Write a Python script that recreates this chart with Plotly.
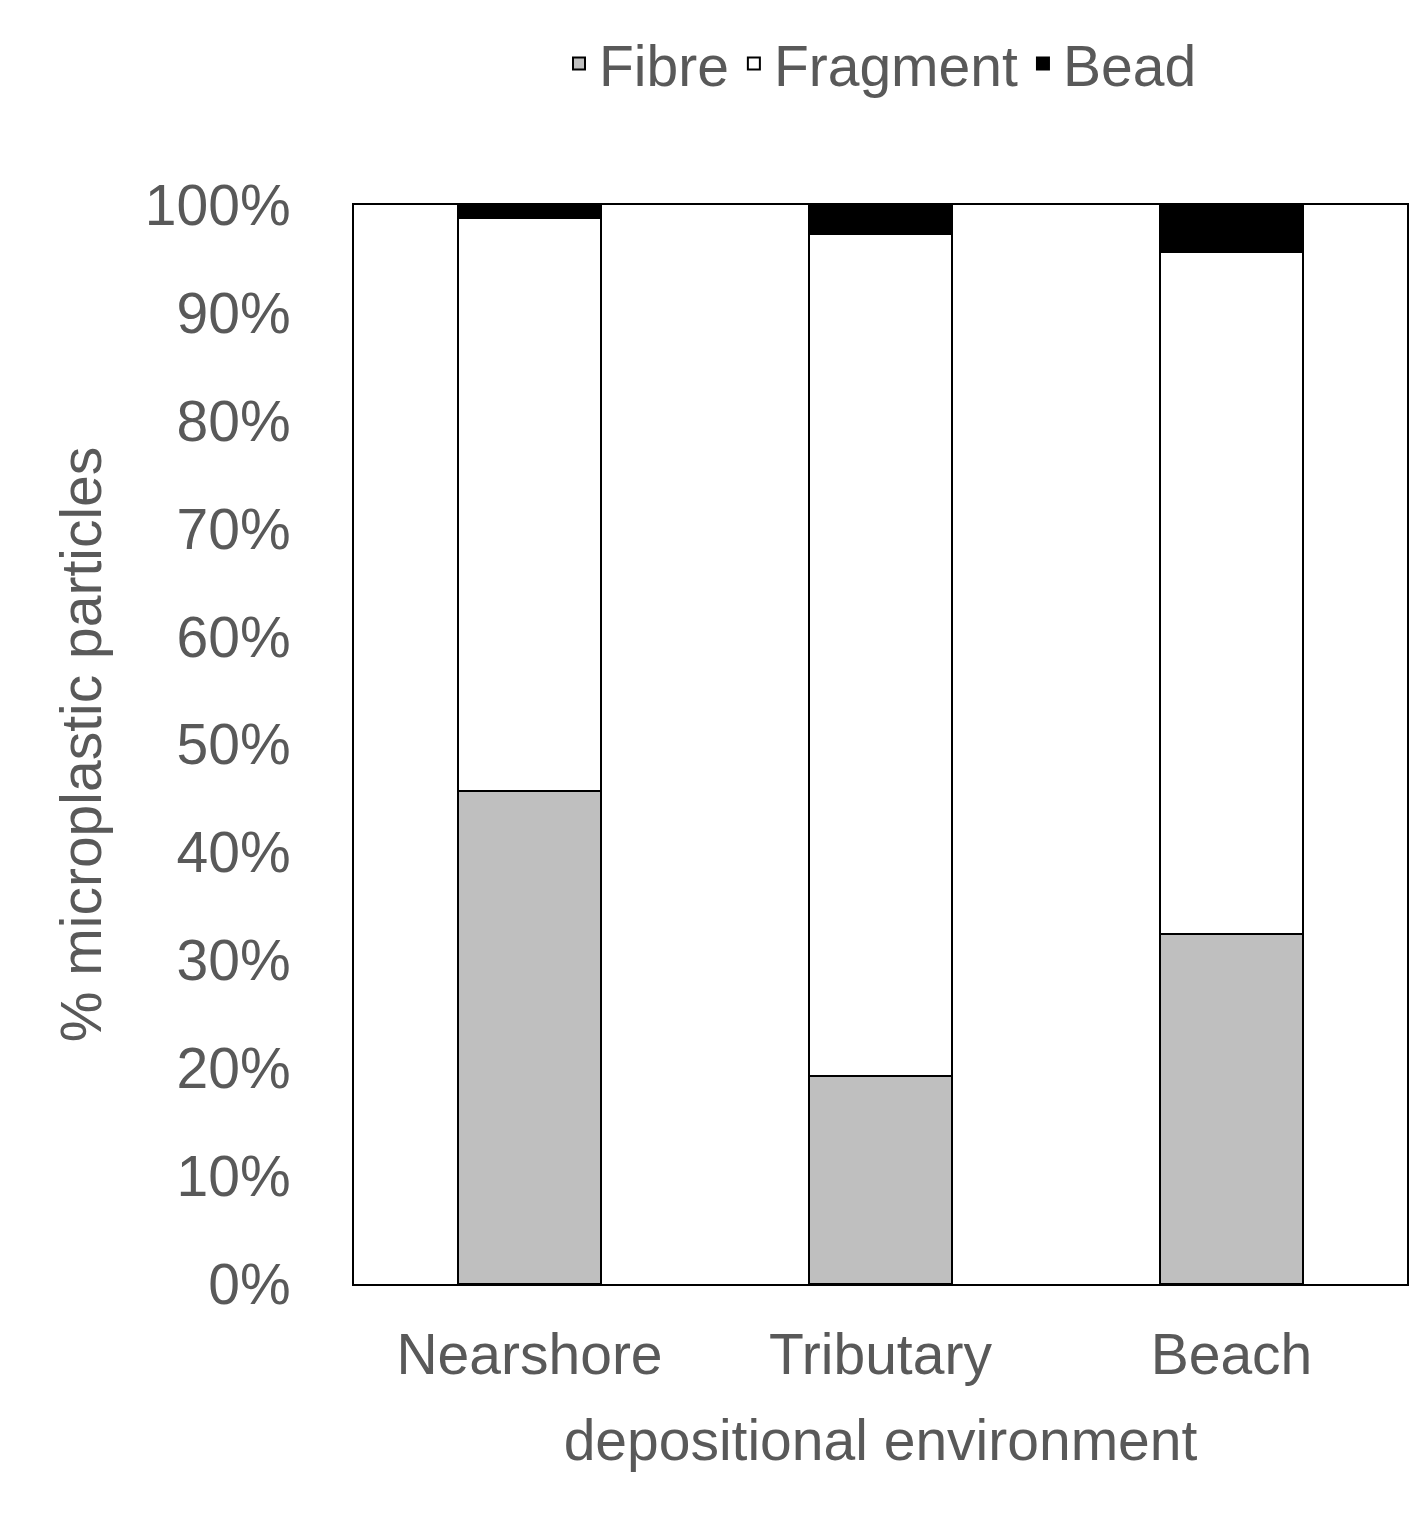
import plotly.graph_objects as go

categories = ["Nearshore", "Tributary", "Beach"]
fibre = [45.7, 19.3, 32.4]
fragment = [53.1, 78.0, 63.2]
bead = [1.2, 2.7, 4.4]
tick_vals = [0, 10, 20, 30, 40, 50, 60, 70, 80, 90, 100]
tick_text = [f"{v}%" for v in tick_vals]

fig = go.Figure()
for name, vals, col in [("Fibre", fibre, "#bfbfbf"), ("Fragment", fragment, "#ffffff"), ("Bead", bead, "#000000")]:
    fig.add_bar(x=categories, y=vals, name=name, marker=dict(color=col, line=dict(color="black", width=2)))

gray = "#595959"
fig.update_layout(
    barmode="stack", bargap=0.595, width=1422, height=1517,
    plot_bgcolor="white", paper_bgcolor="white",
    margin=dict(l=346, r=23, t=176, b=241),
    font=dict(family="Liberation Sans, Arial", size=57, color=gray),
    legend=dict(orientation="h", x=0.5, xanchor="center", y=1.09, yanchor="bottom",
                font=dict(size=57, color=gray), traceorder="normal", itemsizing="constant"),
    xaxis=dict(showline=True, linecolor="black", linewidth=2, mirror=True, ticks="outside",
               ticklen=20, tickcolor="white",
               title=dict(text="depositional environment", font=dict(size=57, color=gray), standoff=35)),
    yaxis=dict(range=[0, 100], tickvals=tick_vals, ticktext=tick_text, showgrid=False,
               showline=True, linecolor="black", linewidth=2, mirror=True, ticks="outside",
               ticklen=50, tickcolor="white",
               title=dict(text="% microplastic particles", font=dict(size=57, color=gray), standoff=25)),
)
fig.write_html("out.html")
